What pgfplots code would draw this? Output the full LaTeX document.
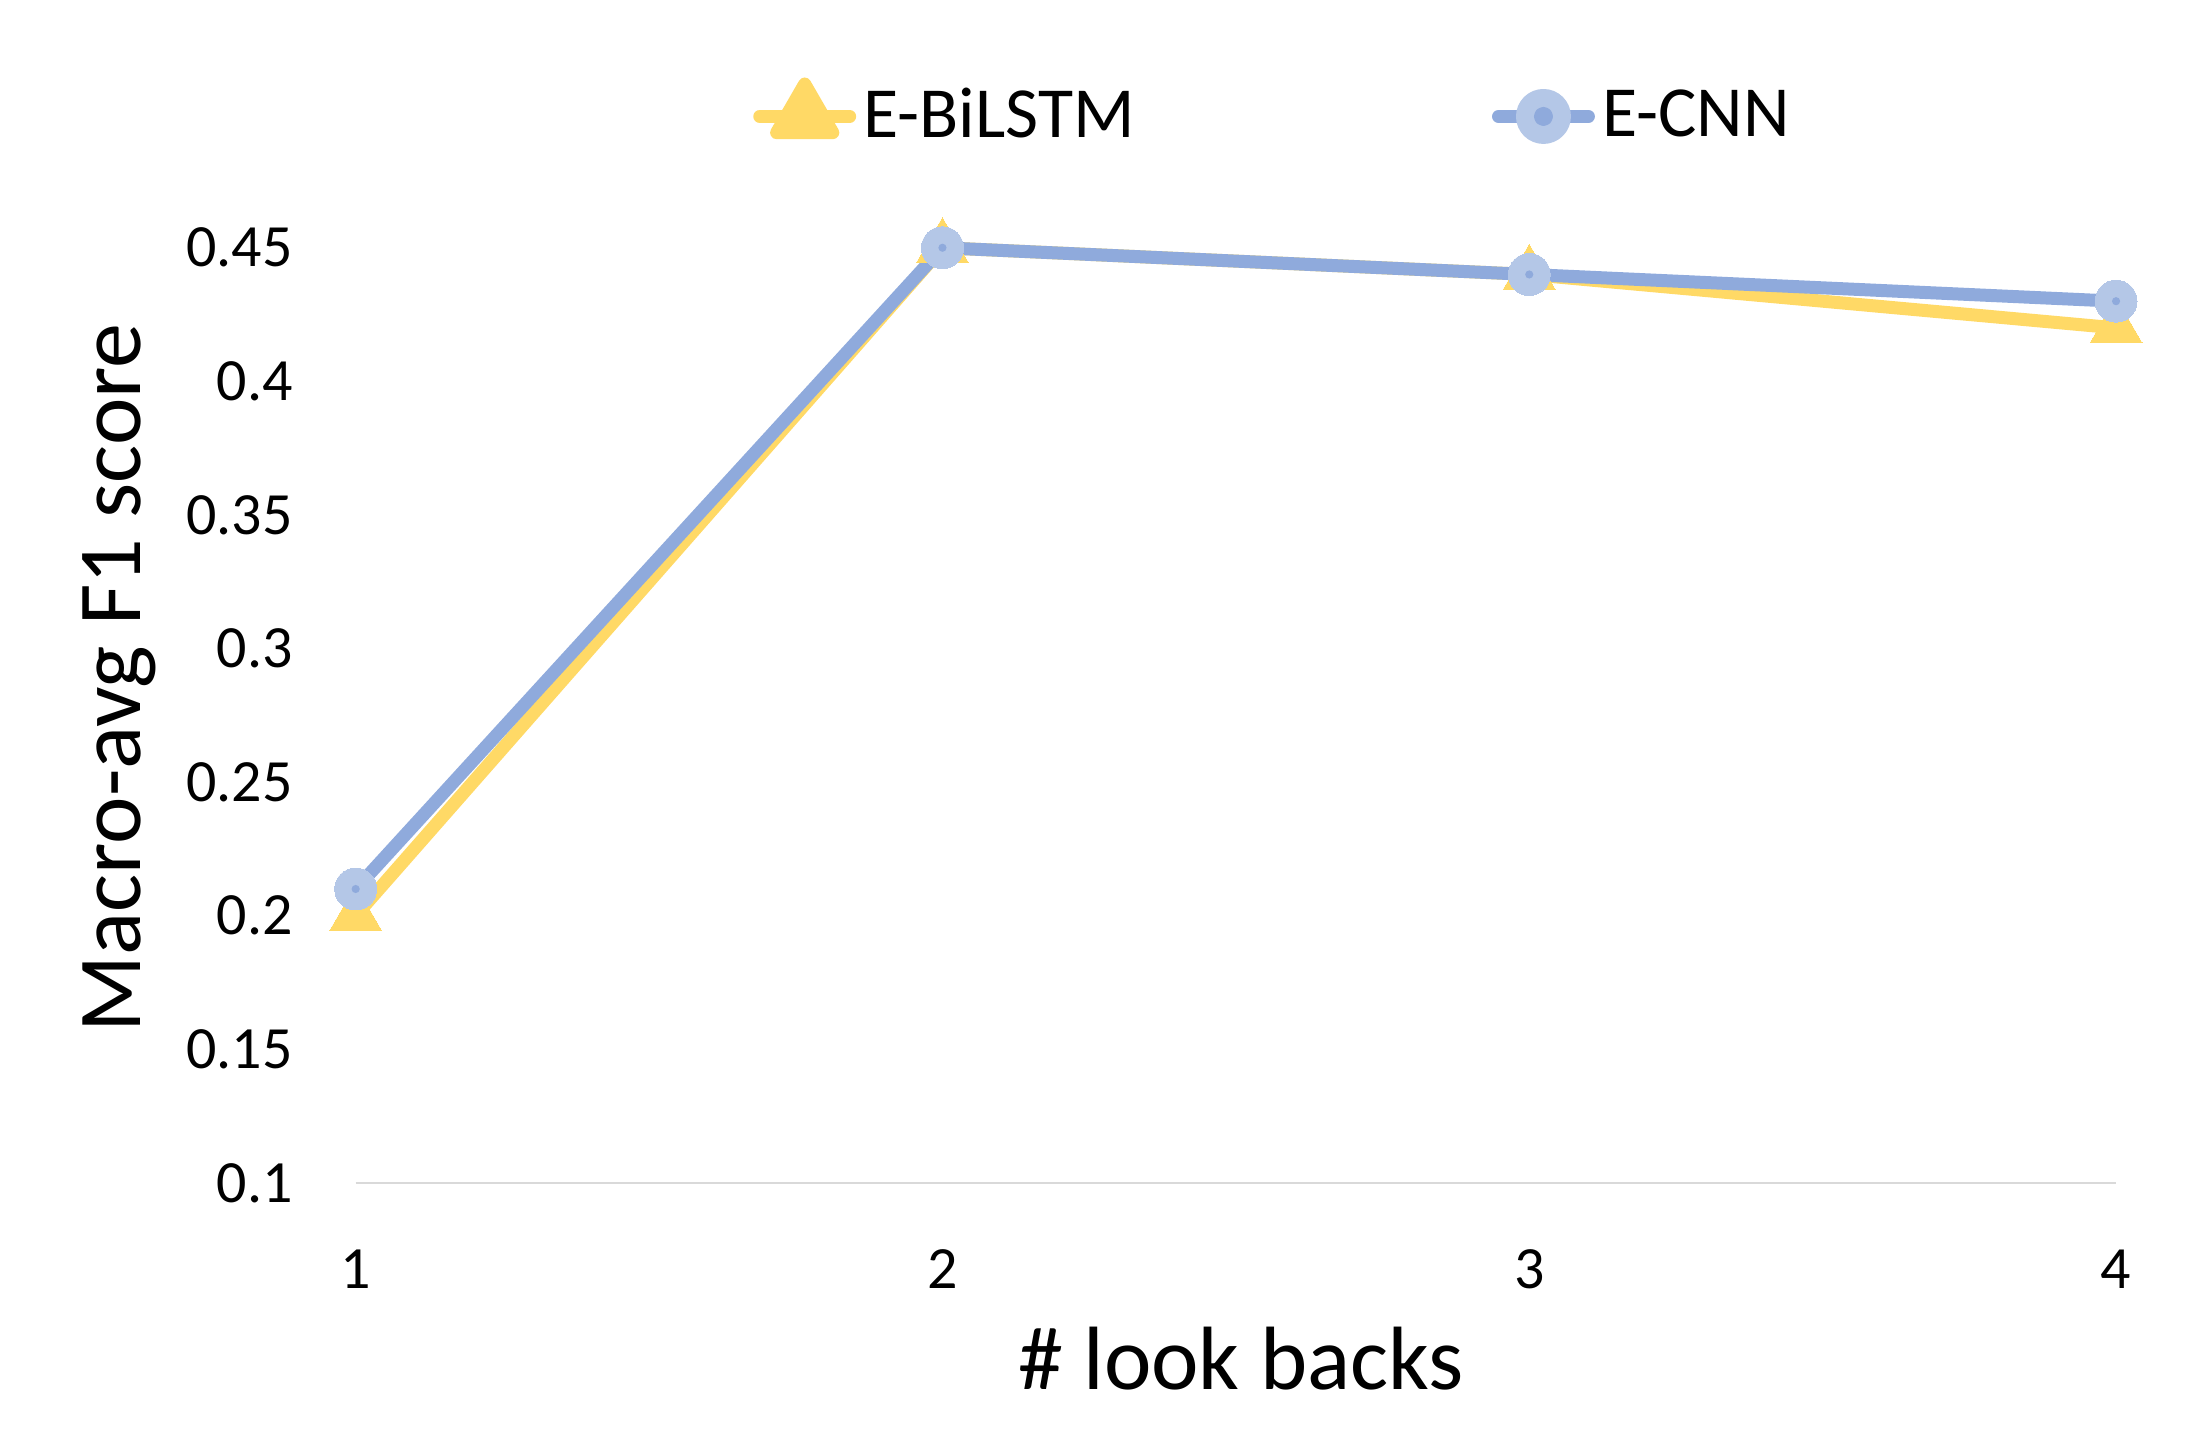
\documentclass[border=0pt]{standalone}
\usepackage{fontspec}
\setmainfont{Carlito}
\usepackage{pgfplots}
\pgfplotsset{compat=1.18}
\definecolor{ylw}{HTML}{FFD966}
\definecolor{bl}{HTML}{8FAADC}
\definecolor{blf}{HTML}{B4C7E7}
\definecolor{axgray}{HTML}{D9D9D9}
\begin{document}
\begin{tikzpicture}
\useasboundingbox (0,0) rectangle (440pt,288.4pt);
\begin{axis}[
  at={(71.2pt,51.6pt)}, anchor=south west,
  scale only axis, width=352.4pt, height=187.2pt,
  xmin=1, xmax=4, ymin=0.1, ymax=0.45,
  clip=false,
  axis x line*=bottom, axis y line*=left,
  y axis line style={draw=none},
  x axis line style={draw=axgray, line width=0.45pt},
  major tick length=0pt,
  xtick={1,2,3,4},
  ytick={0.1,0.15,0.2,0.25,0.3,0.35,0.4,0.45},
  yticklabels={0.1,0.15,0.2,0.25,0.3,0.35,0.4,0.45},
  /pgf/number format/assume math mode=true,
  tick label style={font=\fontsize{12}{14}\selectfont},
  yticklabel style={inner sep=0pt, anchor=east, xshift=-12.4pt},
  xticklabel style={inner sep=0pt, anchor=north, yshift=-13.2pt},
  xlabel={\# look backs},
  ylabel={Macro-avg F1 score},
  xlabel style={at={(axis description cs:0.503,0)}, anchor=center, yshift=-35.2pt, inner sep=0pt, font=\fontsize{18}{20}\selectfont},
  ylabel style={at={(axis description cs:-0.1342,0.54)}, anchor=center, inner sep=0pt, font=\fontsize{18}{20}\selectfont},
  legend columns=2,
  legend style={at={(axis description cs:0.5224,1.142)}, anchor=center, draw=none, fill=none,
    font=\fontsize{14.4}{16}\selectfont, nodes={inner sep=1.5pt},
    /tikz/every even column/.append style={column sep=70pt}},
  legend cell align=left,
]
\addplot[color=ylw, line width=2.6pt, line join=round, mark=triangle*, mark size=6pt,
  mark options={fill=ylw, draw=ylw, line width=0pt},
  legend image code/.code={\draw[line cap=round, line width=2.6pt, ylw] (0pt,0pt) -- (18pt,0pt);
    \fill[ylw] (9pt,0pt) ++(90:6.5pt) -- ++(-120:11.26pt) -- ++(0:11.26pt) -- cycle;}]
  coordinates {(1,0.2) (2,0.45) (3,0.44) (4,0.42)};
\addlegendentry{E-BiLSTM}
\addplot[color=bl, line width=2.6pt, line join=round, mark=*, mark size=4.2pt,
  mark options={fill=blf, draw=blf, line width=0pt},
  legend image code/.code={\draw[line cap=round, line width=2.6pt, bl] (0pt,0pt) -- (18pt,0pt);
    \fill[blf] (9pt,0pt) circle (4.2pt); \fill[bl] (9pt,0pt) circle (0.6pt);}]
  coordinates {(1,0.21) (2,0.45) (3,0.44) (4,0.43)};
\addlegendentry{E-CNN}
\addplot[only marks, mark=*, mark size=0.6pt, color=bl, forget plot]
  coordinates {(1,0.21) (2,0.45) (3,0.44) (4,0.43)};
\end{axis}
\end{tikzpicture}
\end{document}
